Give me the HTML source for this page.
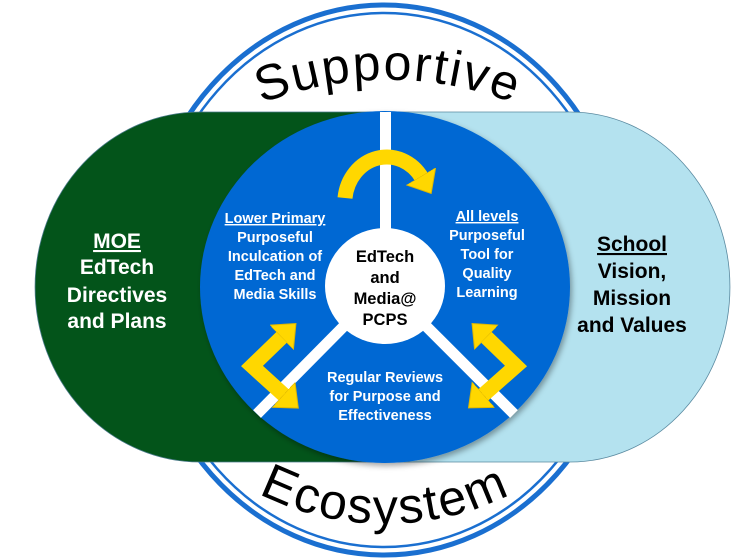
<!DOCTYPE html>
<html><head><meta charset="utf-8"><style>
html,body{margin:0;padding:0;background:#fff;}
svg{display:block;}
.w{font-family:"Liberation Sans Narrow","Liberation Sans",sans-serif;font-weight:bold;fill:#fff;}
.k{font-family:"Liberation Sans Narrow","Liberation Sans",sans-serif;font-weight:bold;fill:#000;}
.big{font-family:"Liberation Sans",sans-serif;fill:#000;letter-spacing:2px;}
</style></head><body>
<svg width="731" height="558" viewBox="0 0 731 558" xmlns="http://www.w3.org/2000/svg">
<defs>
<filter id="sh" x="-10%" y="-10%" width="120%" height="120%"><feDropShadow dx="2" dy="3" stdDeviation="3" flood-color="#000" flood-opacity="0.35"/></filter>
<marker id="ah" markerUnits="userSpaceOnUse" markerWidth="40" markerHeight="40" refX="2" refY="17" orient="auto-start-reverse">
<polygon points="0,0 20,17 0,34" fill="#FFD700" stroke="#E0B800" stroke-width="1"/>
</marker>
<path id="topArc" d="M 124,200 A 350,350 0 0 1 652,200"/>
<path id="botArc" d="M 112,306 A 280,280 0 0 0 658,306"/>
</defs>

<ellipse cx="384" cy="280" rx="244" ry="275" fill="#fff" stroke="#1a6fd0" stroke-width="5"/>
<ellipse cx="384" cy="280" rx="236" ry="267" fill="none" stroke="#1a6fd0" stroke-width="2.5"/>

<text class="big" font-size="50"><textPath href="#topArc" startOffset="50%" text-anchor="middle">Supportive</textPath></text>
<text class="big" font-size="50"><textPath href="#botArc" startOffset="50%" text-anchor="middle">Ecosystem</textPath></text>

<path d="M 200,112 L 400,112 L 400,462 L 200,462 A 165,175 0 0 1 200,112 Z" fill="#03541a" stroke="#4a7a8a" stroke-width="0.8"/>
<path d="M 370,112 L 570,112 A 160,175 0 0 1 570,462 L 370,462 Z" fill="#b4e2ef" stroke="#5a8aa0" stroke-width="0.8"/>

<ellipse cx="385" cy="287" rx="185" ry="176" fill="#0067d3" filter="url(#sh)"/>

<rect x="380" y="112" width="11" height="130" fill="#fff"/>
<line x1="350" y1="320" x2="257" y2="414" stroke="#fff" stroke-width="11"/>
<line x1="420" y1="320" x2="514" y2="414" stroke="#fff" stroke-width="11"/>

<ellipse cx="385" cy="286" rx="60" ry="58" fill="#fff"/>

<path d="M 345,198 A 42,46 0 0 1 422,178" fill="none" stroke="#FFD700" stroke-width="15" marker-end="url(#ah)"/>
<path d="M 283,336 L 252,366 L 285,396" fill="none" stroke="#FFD700" stroke-width="15" stroke-linejoin="miter" marker-start="url(#ah)" marker-end="url(#ah)"/>
<path d="M 485,336 L 516,366 L 482,396" fill="none" stroke="#FFD700" stroke-width="15" stroke-linejoin="miter" marker-start="url(#ah)" marker-end="url(#ah)"/>

<g class="w" font-size="21" text-anchor="middle">
<text x="117" y="248" text-decoration="underline">MOE</text>
<text x="117" y="274">EdTech</text>
<text x="117" y="302">Directives</text>
<text x="117" y="328">and Plans</text>
</g>
<g class="k" font-size="21" text-anchor="middle">
<text x="632" y="251" text-decoration="underline">School</text>
<text x="632" y="278">Vision,</text>
<text x="632" y="305">Mission</text>
<text x="632" y="332">and Values</text>
</g>
<g class="w" font-size="14.5" text-anchor="middle">
<text x="275" y="223" text-decoration="underline">Lower Primary</text>
<text x="275" y="242">Purposeful</text>
<text x="275" y="261">Inculcation of</text>
<text x="275" y="280">EdTech and</text>
<text x="275" y="299">Media Skills</text>
</g>
<g class="w" font-size="14.5" text-anchor="middle">
<text x="487" y="221" text-decoration="underline">All levels</text>
<text x="487" y="240">Purposeful</text>
<text x="487" y="259">Tool for</text>
<text x="487" y="278">Quality</text>
<text x="487" y="297">Learning</text>
</g>
<g class="w" font-size="14.5" text-anchor="middle">
<text x="385" y="382">Regular Reviews</text>
<text x="385" y="401">for Purpose and</text>
<text x="385" y="420">Effectiveness</text>
</g>
<g class="k" font-size="16.5" text-anchor="middle">
<text x="385" y="262">EdTech</text>
<text x="385" y="283">and</text>
<text x="385" y="304">Media@</text>
<text x="385" y="325">PCPS</text>
</g>
</svg>
</body></html>
